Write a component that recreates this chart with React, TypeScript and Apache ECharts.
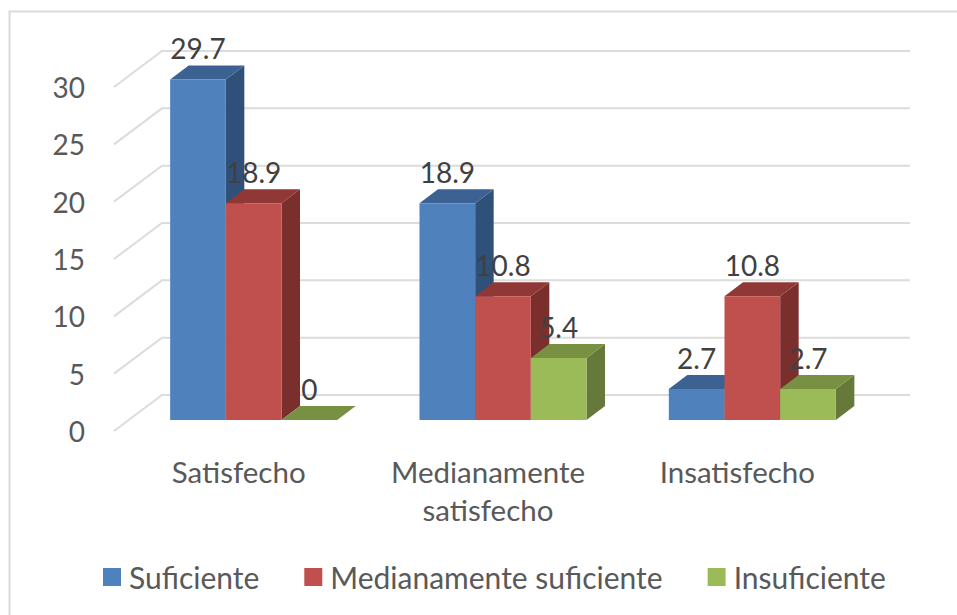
import React, { useEffect, useRef } from "react";
import * as echarts from "echarts";

const categories = ["Satisfecho", "Medianamente\nsatisfecho", "Insatisfecho"];
const suficiente = [29.7, 18.9, 2.7];
const medianamente = [18.9, 10.8, 10.8];
const insuficiente = [0, 5.4, 2.7];
const wallTicks = [0, 5, 10, 15, 20, 25, 30];

const FONT = "Lato";
const GRID_COLOR = "#dcdcdc";
const WALL_DX = 48;
const WALL_DY = -36;
const BAR_SHIFT_X = 15;
const BAR_SHIFT_Y = -11;
const TOP_DX = 18.5;
const TOP_DY = -14;
const BAR_BAND_RATIO = 0.2233;

function bar3d(seriesIndex: number, front: string, top: string, side: string) {
  return (params: any, api: any) => {
    const i = api.value(0);
    const v = api.value(1);
    const base = api.coord([i, 0]);
    const head = api.coord([i, v]);
    const w = api.size([1, 0])[0] * BAR_BAND_RATIO;
    const x0 = base[0] + BAR_SHIFT_X + (seriesIndex - 1.5) * w;
    const x1 = x0 + w;
    const y0 = base[1] + BAR_SHIFT_Y;
    const y1 = head[1] + BAR_SHIFT_Y;
    const poly = (points: number[][], fill: string) => ({
      type: "polygon",
      shape: { points },
      style: { fill },
    });
    return {
      type: "group",
      children: [
        poly([[x1, y0], [x1 + TOP_DX, y0 + TOP_DY], [x1 + TOP_DX, y1 + TOP_DY], [x1, y1]], side),
        poly([[x0, y1], [x0 + TOP_DX, y1 + TOP_DY], [x1 + TOP_DX, y1 + TOP_DY], [x1, y1]], top),
        poly([[x0, y0], [x1, y0], [x1, y1], [x0, y1]], front),
        {
          type: "text",
          x: (x0 + x1) / 2,
          y: y1 - 31,
          style: {
            text: String(v),
            fill: "#404040",
            font: `28px ${FONT}`,
            align: "center",
            verticalAlign: "middle",
          },
        },
      ],
    };
  };
}

function wallLines(params: any, api: any) {
  const v = api.value(0);
  const y = api.coord([0, v])[1];
  const sys = params.coordSys;
  const xL = sys.x;
  const xR = sys.x + sys.width;
  return {
    type: "polyline",
    shape: {
      points: [
        [xL, y],
        [xL + WALL_DX, y + WALL_DY],
        [xR + WALL_DX, y + WALL_DY],
      ],
    },
    style: { stroke: GRID_COLOR, lineWidth: 2, fill: "none" },
  };
}

function barSeries(name: string, values: number[], idx: number, front: string, top: string, side: string) {
  return {
    type: "custom",
    name,
    renderItem: bar3d(idx, front, top, side),
    itemStyle: { color: front },
    encode: { x: 0, y: 1 },
    data: values.map((v, i) => [i, v]),
    z: 3,
  };
}

export default function App() {
  const ref = useRef<HTMLDivElement>(null);
  useEffect(() => {
    document.body.style.margin = "0";
    const chart = echarts.init(ref.current!, undefined, { renderer: "svg" });
    chart.setOption({
      animation: false,
      backgroundColor: "#ffffff",
      textStyle: { fontFamily: FONT },
      grid: { left: 114, top: 87, width: 748, height: 344, containLabel: false },
      xAxis: {
        type: "category",
        data: categories,
        axisLine: { show: false },
        axisTick: { show: false },
        axisLabel: {
          color: "#595959",
          fontFamily: FONT,
          fontSize: 29.5,
          lineHeight: 38,
          margin: 21,
          interval: 0,
        },
      },
      yAxis: {
        type: "value",
        min: 0,
        max: 30,
        interval: 5,
        axisLine: { show: false },
        axisTick: { show: false },
        splitLine: { show: false },
        axisLabel: { color: "#595959", fontFamily: FONT, fontSize: 28, margin: 29 },
      },
      legend: {
        left: 98,
        top: 557,
        itemWidth: 18,
        itemHeight: 18,
        itemGap: 45,
        icon: "rect",
        textStyle: { color: "#595959", fontFamily: FONT, fontSize: 30, padding: [0, 0, 0, 3] },
        data: ["Suficiente", "Medianamente suficiente", "Insuficiente"],
      },
      graphic: [
        {
          type: "polyline",
          shape: { points: [[9.5, 615], [9.5, 11.5], [957, 11.5]] },
          style: { stroke: "#d9d9d9", lineWidth: 2, fill: "none" },
          silent: true,
        },
      ],
      series: [
        {
          type: "custom",
          name: "walls",
          renderItem: wallLines,
          encode: { y: 0 },
          data: wallTicks.map((v) => [v]),
          z: 1,
          silent: true,
        },
        barSeries("Suficiente", suficiente, 0, "#4f81bd", "#3b6292", "#2f5179"),
        barSeries("Medianamente suficiente", medianamente, 1, "#c0504d", "#8f3836", "#7a2f2d"),
        barSeries("Insuficiente", insuficiente, 2, "#9bbb59", "#789041", "#66783a"),
      ],
    });
    return () => chart.dispose();
  }, []);
  return <div ref={ref} style={{ position: "absolute", left: 0, top: 0, width: 957, height: 615 }} />;
}
